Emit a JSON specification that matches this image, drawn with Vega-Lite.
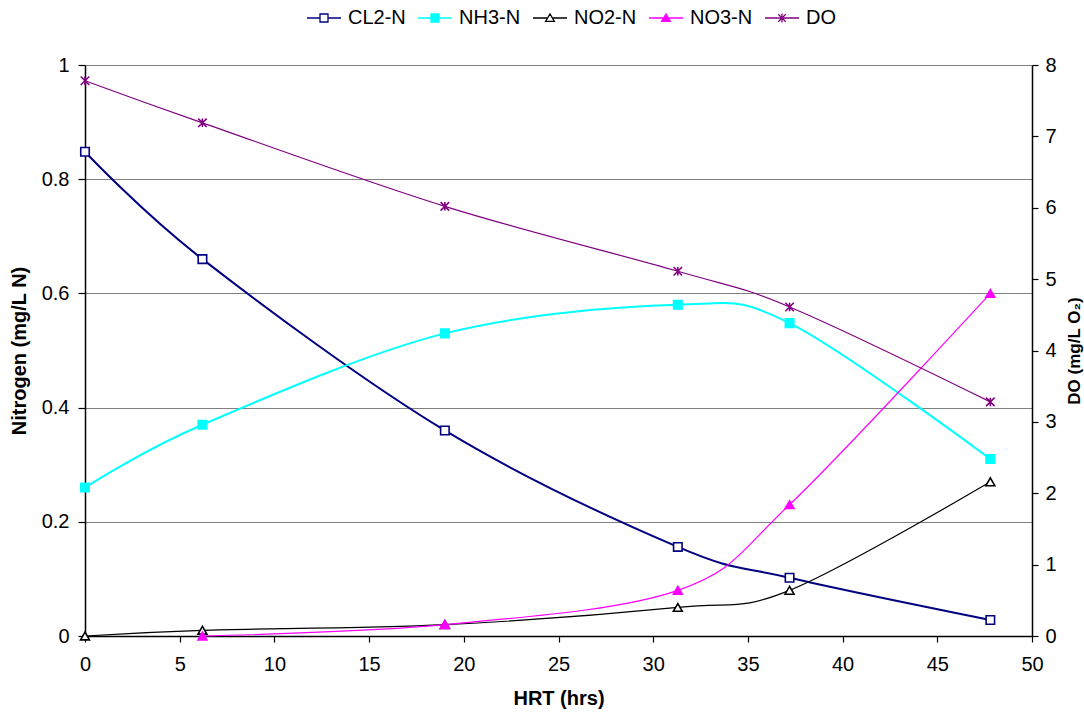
{
  "$schema": "https://vega.github.io/schema/vega-lite/v6.json",
  "width": 947,
  "height": 571,
  "autosize": "none",
  "padding": {"left": 85, "top": 65, "right": 52, "bottom": 79},
  "background": "white",
  "config": {
    "font": "Liberation Sans",
    "view": {"stroke": null},
    "axis": {
      "domainColor": "black",
      "tickColor": "black",
      "labelColor": "black",
      "titleColor": "black",
      "labelFontSize": 20,
      "titleFontSize": 20,
      "titleFontWeight": "bold",
      "labelFont": "Liberation Sans",
      "titleFont": "Liberation Sans",
      "grid": false,
      "labelFlush": false,
      "domainWidth": 1.5,
      "tickWidth": 1.2
    },
    "legend": {
      "labelFont": "Liberation Sans",
      "labelFontSize": 20,
      "labelColor": "black",
      "padding": 0,
      "orient": "none",
      "legendX": 221,
      "legendY": -65,
      "direction": "horizontal",
      "columns": 5,
      "columnPadding": 9,
      "labelOffset": 6,
      "symbolSize": 1156,
      "symbolStrokeWidth": 1.3,
      "symbolOpacity": 1
    }
  },
  "data": {
    "values": [
      {"series": "CL2-N", "hrt": 0, "value": 0.848},
      {"series": "CL2-N", "hrt": 6.2, "value": 0.66},
      {"series": "CL2-N", "hrt": 19, "value": 0.36},
      {"series": "CL2-N", "hrt": 31.3, "value": 0.156},
      {"series": "CL2-N", "hrt": 37.2, "value": 0.102},
      {"series": "CL2-N", "hrt": 47.8, "value": 0.028},
      {"series": "NH3-N", "hrt": 0, "value": 0.26},
      {"series": "NH3-N", "hrt": 6.2, "value": 0.37},
      {"series": "NH3-N", "hrt": 19, "value": 0.53},
      {"series": "NH3-N", "hrt": 31.3, "value": 0.58},
      {"series": "NH3-N", "hrt": 37.2, "value": 0.548},
      {"series": "NH3-N", "hrt": 47.8, "value": 0.31},
      {"series": "NO2-N", "hrt": 0, "value": 0},
      {"series": "NO2-N", "hrt": 6.2, "value": 0.01},
      {"series": "NO2-N", "hrt": 19, "value": 0.02},
      {"series": "NO2-N", "hrt": 31.3, "value": 0.05},
      {"series": "NO2-N", "hrt": 37.2, "value": 0.08},
      {"series": "NO2-N", "hrt": 47.8, "value": 0.27},
      {"series": "NO3-N", "hrt": 6.2, "value": 0},
      {"series": "NO3-N", "hrt": 19, "value": 0.02},
      {"series": "NO3-N", "hrt": 31.3, "value": 0.08},
      {"series": "NO3-N", "hrt": 37.2, "value": 0.23},
      {"series": "NO3-N", "hrt": 47.8, "value": 0.6},
      {"series": "DO", "hrt": 0, "value": 7.78},
      {"series": "DO", "hrt": 6.2, "value": 7.19},
      {"series": "DO", "hrt": 19, "value": 6.02},
      {"series": "DO", "hrt": 31.3, "value": 5.11},
      {"series": "DO", "hrt": 37.2, "value": 4.61},
      {"series": "DO", "hrt": 47.8, "value": 3.28}
    ]
  },
  "encoding": {
    "x": {
      "field": "hrt",
      "type": "quantitative",
      "scale": {"domain": [0, 50], "nice": false, "zero": false},
      "axis": {
        "title": "HRT (hrs)",
        "values": [0, 5, 10, 15, 20, 25, 30, 35, 40, 45, 50],
        "tickSize": 6,
        "labelPadding": 12,
        "titlePadding": 14
      }
    },
    "stroke": {
      "field": "series",
      "type": "nominal",
      "scale": {
        "domain": ["CL2-N", "NH3-N", "NO2-N", "NO3-N", "DO"],
        "range": ["#000080", "#00FFFF", "#000000", "#FF00FF", "#800080"]
      },
      "legend": {"title": null}
    }
  },
  "layer": [
    {
      "transform": [{"filter": "datum.series !== 'DO'"}],
      "encoding": {
        "y": {
          "field": "value",
          "type": "quantitative",
          "scale": {"domain": [0, 1], "nice": false},
          "axis": {
            "title": "Nitrogen (mg/L N)",
            "orient": "left",
            "values": [0, 0.2, 0.4, 0.6, 0.8, 1],
            "format": "~g",
            "grid": true,
            "gridColor": "#808080",
            "gridWidth": 1.2,
            "tickSize": 7,
            "labelPadding": 9,
            "titlePadding": 12
          }
        }
      },
      "layer": [
        {
          "transform": [{"filter": "datum.series === 'CL2-N' || datum.series === 'NH3-N'"}],
          "mark": {"type": "line", "interpolate": "cardinal", "strokeWidth": 2}
        },
        {
          "transform": [{"filter": "datum.series === 'NO2-N' || datum.series === 'NO3-N'"}],
          "mark": {"type": "line", "interpolate": "cardinal", "strokeWidth": 1.2}
        },
        {
          "transform": [{"filter": "datum.series === 'CL2-N' || datum.series === 'NH3-N'"}],
          "mark": {"type": "point", "shape": "square", "opacity": 1, "strokeWidth": 1.6, "size": 72},
          "encoding": {
            "fill": {
              "field": "series",
              "type": "nominal",
              "scale": {
                "domain": ["CL2-N", "NH3-N", "NO2-N", "NO3-N", "DO"],
                "range": ["#ffffff", "#00FFFF", "#ffffff", "#FF00FF", "transparent"]
              },
              "legend": {"title": null}
            }
          }
        },
        {
          "transform": [{"filter": "datum.series === 'NO2-N' || datum.series === 'NO3-N'"}],
          "mark": {"type": "point", "shape": "triangle-up", "opacity": 1, "strokeWidth": 1.6, "size": 80},
          "encoding": {
            "fill": {
              "field": "series",
              "type": "nominal",
              "scale": {
                "domain": ["CL2-N", "NH3-N", "NO2-N", "NO3-N", "DO"],
                "range": ["#ffffff", "#00FFFF", "#ffffff", "#FF00FF", "transparent"]
              },
              "legend": {"title": null}
            }
          }
        },
        {
          "transform": [{"filter": "false"}],
          "mark": {"type": "point", "opacity": 1},
          "encoding": {
            "fill": {
              "field": "series",
              "type": "nominal",
              "scale": {
                "domain": ["CL2-N", "NH3-N", "NO2-N", "NO3-N", "DO"],
                "range": ["#ffffff", "#00FFFF", "#ffffff", "#FF00FF", "transparent"]
              },
              "legend": {"title": null}
            },
            "shape": {
              "field": "series",
              "type": "nominal",
              "scale": {
                "domain": ["CL2-N", "NH3-N", "NO2-N", "NO3-N", "DO"],
                "range": [
                  "M-1,0L-0.235,0M0.235,0L1,0M-0.235,-0.235L0.235,-0.235L0.235,0.235L-0.235,0.235Z",
                  "M-1,0L1,0M-0.235,-0.235L0.235,-0.235L0.235,0.235L-0.235,0.235Z",
                  "M-1,0L-0.14,0M0.14,0L1,0M-0.26,0.2L0.26,0.2L0,-0.24Z",
                  "M-1,0L1,0M-0.26,0.2L0.26,0.2L0,-0.24Z",
                  "M-1,0L1,0M-0.22,-0.22L0.22,0.22M-0.22,0.22L0.22,-0.22M0,-0.26L0,0.26"
                ]
              },
              "legend": {"title": null}
            }
          }
        }
      ]
    },
    {
      "transform": [{"filter": "datum.series === 'DO'"}],
      "encoding": {
        "y": {
          "field": "value",
          "type": "quantitative",
          "scale": {"domain": [0, 8], "nice": false},
          "axis": {
            "title": "DO (mg/L O₂)",
            "orient": "right",
            "values": [0, 1, 2, 3, 4, 5, 6, 7, 8],
            "tickSize": 6,
            "labelPadding": 7,
            "titlePadding": 10,
            "titleAngle": 270,
            "titleBaseline": "top",
            "titleFontSize": 17
          }
        }
      },
      "layer": [
        {
          "mark": {"type": "line", "interpolate": "cardinal", "strokeWidth": 1.2}
        },
        {
          "mark": {"type": "point", "shape": "M-1,-1L1,1M-1,1L1,-1M0,-1L0,1", "opacity": 1, "strokeWidth": 1.6, "size": 72, "fill": "transparent"}
        }
      ]
    }
  ],
  "resolve": {"scale": {"y": "independent"}}
}
